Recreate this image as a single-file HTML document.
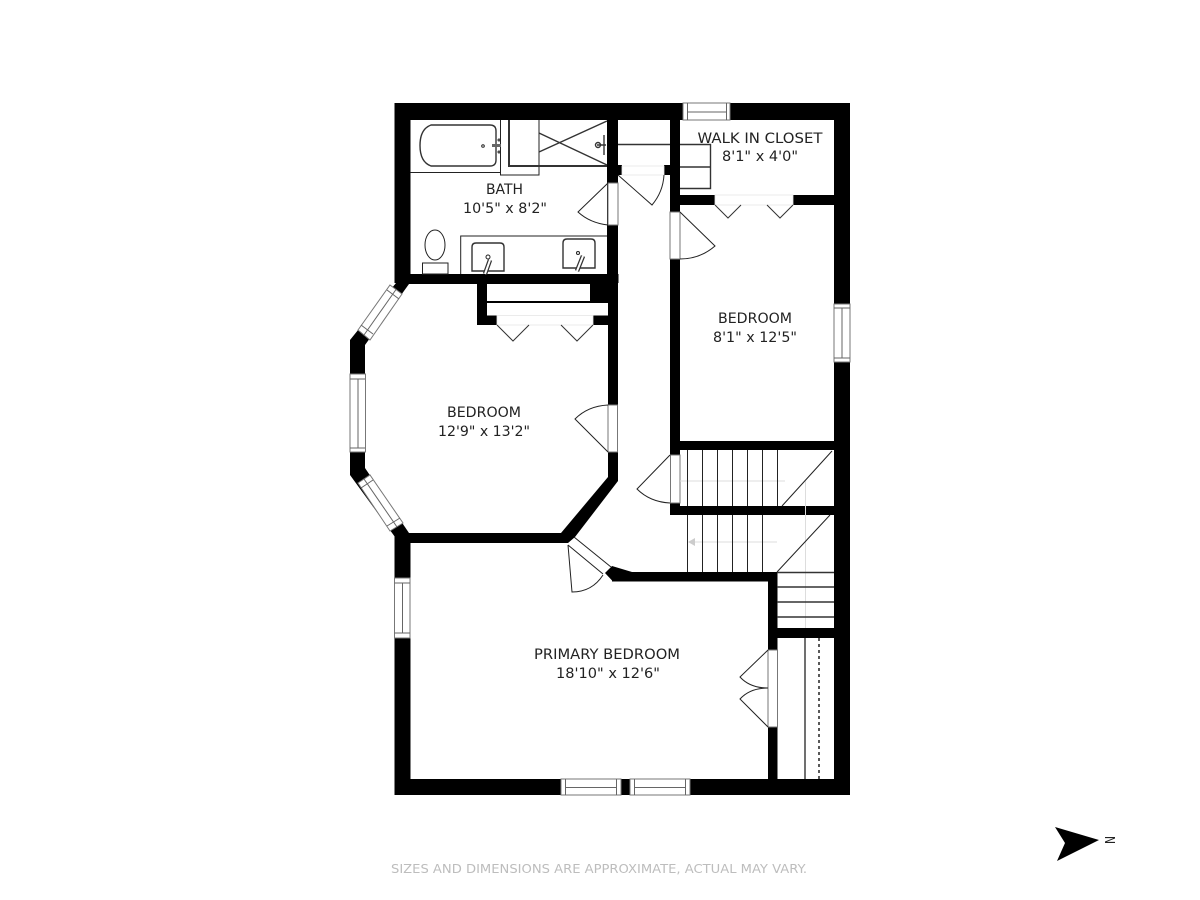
<!DOCTYPE html>
<html>
<head>
<meta charset="utf-8">
<title>Floor plan</title>
<style>
html,body{margin:0;padding:0;background:#fff;width:1200px;height:900px;overflow:hidden}
svg{display:block}
text{font-family:"DejaVu Sans","Liberation Sans",sans-serif;fill:#222;font-size:14px;text-anchor:start}
.t{fill:none;stroke:#222;stroke-width:1}
.m{fill:none;stroke:#333;stroke-width:1.4}
.g{fill:none;stroke:#666;stroke-width:1}
.d{fill:none;stroke:#333;stroke-width:1}
.l{fill:none;stroke:#ddd;stroke-width:1}
.w{fill:#fff;stroke:#777;stroke-width:1}
.o{fill:#fff;stroke:#e6e6e6;stroke-width:.8}
</style>
</head>
<body>
<svg width="1200" height="900" viewBox="0 0 1200 900" xmlns="http://www.w3.org/2000/svg">
<rect width="1200" height="900" fill="#fff"/>

<!-- outer walls -->
<g fill="#000">
<rect x="394.5" y="103" width="455.5" height="17"/>
<rect x="394.5" y="103" width="16" height="180"/>
<rect x="834" y="103" width="16" height="692"/>
<rect x="394.5" y="779" width="455.5" height="16"/>
<rect x="394.5" y="533" width="16" height="262"/>
<!-- bath / hall walls -->
<rect x="394.5" y="274" width="224" height="9"/>
<rect x="607" y="120" width="11" height="170"/>
<rect x="607" y="165" width="15" height="10"/>
<rect x="664" y="165" width="10" height="10"/>
<rect x="670" y="120" width="10" height="335"/>
<rect x="680" y="195" width="35" height="10"/>
<rect x="793" y="195" width="41" height="10"/>
<rect x="670" y="441" width="164" height="9"/>
<rect x="670" y="503" width="10" height="12"/>
<rect x="670" y="506" width="164" height="9"/>
<!-- primary walls -->
<rect x="612" y="572" width="165" height="9.5"/>
<rect x="768" y="572" width="9.5" height="223"/>
<rect x="777" y="628" width="57" height="10"/>
</g>

<!-- octagon bedroom -->
<polygon fill="#000" points="396,283 350,340 350,475 395,537 410,543 568,543 575,537 618,481 618,275 396,275"/>
<polygon fill="#fff" points="409,284 365,345 365,468 409,533 561,533 608,477 608,284"/>
<polygon fill="#000" points="605,573 612,566 632,572 632,581.5 613,581.5"/>
<!-- closet in octagon bedroom -->
<g fill="#000">
<rect x="477" y="283" width="10" height="42"/>
<rect x="477" y="315.5" width="20" height="9.5"/>
<rect x="590" y="283" width="18" height="20"/>
<rect x="593" y="315.5" width="15" height="9.5"/>
<rect x="487" y="301" width="121" height="2"/>
</g>
<rect x="487" y="303" width="121" height="12.5" fill="#fff"/>
<rect x="497" y="315.5" width="96" height="9.5" class="o"/>
<path class="d" d="M497 325 L513 341 L529 325 M561 325 L577 341 L593 325"/>

<!-- bath door + bedroom doors (openings) -->
<rect x="608" y="183" width="10" height="42" class="w"/>
<path class="t" d="M608 183 L578 212 Q590 223 608 225" stroke-width=".8"/>
<rect x="608" y="405" width="9.5" height="47" class="w"/>
<path class="t" d="M608 452 L575 419 Q588 406 608 405"/>
<rect x="622" y="166" width="42" height="9" class="o"/>
<path class="t" d="M618 175 L652 205 Q663 192 664 175"/>
<rect x="670" y="212" width="10" height="47" class="w"/>
<path class="t" d="M680 212 L715 246 Q700 259 680 259"/>
<rect x="670.5" y="455" width="9.5" height="48" class="w"/>
<path class="t" d="M670 455 L637 489 Q650 502 670 503"/>
<rect x="715" y="195" width="78" height="10" class="o"/>
<path class="d" d="M715 205 L728 218 L741 205 M767 205 L780 218 L793 205"/>

<!-- closet stair steps -->
<rect x="618" y="120" width="52" height="45" fill="#fff"/>
<path class="m" d="M618 144.500 H670"/>
<path class="m" d="M680 144.500 H710.500 V188.500 H680 M680 167 H710.500"/>

<!-- stairs -->
<path class="l" d="M680 481 H785 M690 542 H777 M805.500 481 V628"/>
<polygon points="688,542 695,538 695,546" fill="#ccc"/>
<path class="t" stroke="#333" d="M687.500 450 V506 M702.500 450 V506 M717.500 450 V506 M732.500 450 V506 M747.500 450 V506 M762.500 450 V506 M777.500 450 V506 M687.500 515 V572 M702.500 515 V572 M717.500 515 V572 M732.500 515 V572 M747.500 515 V572 M762.500 515 V572"/>
<path class="t" d="M832 451 L782 506 M830 515 L777 572"/>
<path class="m" d="M777 572.500 H834 M777 587 H834 M777 602 H834 M777 617 H834"/>

<!-- closet under stairs -->
<path class="m" d="M805 638 V779"/>
<path fill="none" stroke="#222" stroke-width="1.500" stroke-dasharray="3 3" d="M819 638 V779"/>

<!-- primary closet doors -->
<rect x="768" y="650" width="9.500" height="77" class="w"/>
<path class="t" d="M768 650 L740 677 Q750 688 768 688 Q750 688 740 699 L768 727"/>

<!-- primary door -->
<polygon fill="#fff" points="575,538 611,567 603,574 568,545"/>
<path class="t" d="M574 537 L611 567 M568 545 L603 574 M568 545 L572 592 Q592 592 603 575"/>

<!-- windows -->
<rect x="683" y="103" width="47" height="17" class="w"/>
<path class="g" d="M687.500 103 V120 M726.500 103 V120 M687 112 H727"/>
<rect x="834" y="304" width="16" height="58" class="w"/>
<path class="g" d="M834 308 H850 M834 358 H850 M842 308 V358"/>
<rect x="394.500" y="578" width="15.500" height="60" class="w"/>
<path class="g" d="M394.500 583 H410 M394.500 633 H410 M402.500 583 V633"/>
<rect x="561" y="779" width="60" height="16" class="w"/>
<path class="g" d="M565.500 779 V795 M616.500 779 V795 M566 787.500 H617"/>
<rect x="630" y="779" width="60" height="16" class="w"/>
<path class="g" d="M634.500 779 V795 M685.500 779 V795 M635 787.500 H685"/>
<rect x="350" y="374" width="15.500" height="78" class="w"/>
<path class="g" d="M350 379 H365 M350 448 H365 M358 379 V448"/>
<polygon class="w" points="390,285 402,294 370,340 358,330"/>
<path class="g" d="M396 289.500 L364 335 M387 290 L399 299 M361 325 L373 334"/>
<polygon class="w" points="358,483 370,475 403,523 390,531"/>
<path class="g" d="M364 479 L397 527 M361 488 L373 480 M387 526 L400 518"/>

<!-- bath fixtures -->
<path class="t" d="M410 172.500 H501 M500.500 120 V175 H539 V120"/>
<path class="m" d="M431 125 H490 Q496 125 496 131 V160 Q496 166 490 166 H431 Q420 162 420 145.500 Q420 129 431 125 Z"/>
<rect x="492" y="144" width="9" height="3" fill="#666"/>
<circle cx="483" cy="146" r="1.300" class="t"/>
<circle cx="499" cy="140" r="1" class="t"/>
<circle cx="499" cy="152" r="1" class="t"/>
<path fill="none" stroke="#333" stroke-width="2" d="M509 120 V166 H607"/>
<path class="m" d="M539 133 L607 165 M539 152 L607 121"/>
<path class="m" d="M604 135 V155 M597 145 H606"/>
<circle cx="598" cy="145" r="2.500" fill="none" stroke="#333" stroke-width="1.400"/>
<rect x="422.500" y="263" width="25.500" height="11" class="t"/>
<ellipse cx="435" cy="245" rx="10" ry="15" class="t"/>
<path class="t" d="M460.700 274 V236 H607"/>
<path class="m" d="M472 271 V247 Q472 243 476 243 H500 Q504 243 504 247 V271 Z"/>
<path class="m" d="M563 268 V243 Q563 239 567 239 H591 Q595 239 595 243 V268 Z"/>
<path fill="none" stroke="#333" stroke-width="4.500" d="M490 260 L485 274"/>
<path fill="none" stroke="#fff" stroke-width="2" d="M490 260 L485 274"/>
<circle cx="488" cy="257" r="2" class="t"/>
<path fill="none" stroke="#333" stroke-width="4.500" d="M583 256 L577 271"/>
<path fill="none" stroke="#fff" stroke-width="2" d="M583 256 L577 271"/>
<circle cx="578" cy="253" r="1.500" class="t"/>

<!-- labels -->
<text x="486" y="194" textLength="37" lengthAdjust="spacingAndGlyphs">BATH</text>
<text x="463" y="213" textLength="84" lengthAdjust="spacingAndGlyphs">10'5" x 8'2"</text>
<text x="697.500" y="143" textLength="125" lengthAdjust="spacingAndGlyphs">WALK IN CLOSET</text>
<text x="722" y="161" textLength="76" lengthAdjust="spacingAndGlyphs">8'1" x 4'0"</text>
<text x="718" y="323" textLength="74" lengthAdjust="spacingAndGlyphs">BEDROOM</text>
<text x="713" y="342" textLength="84" lengthAdjust="spacingAndGlyphs">8'1" x 12'5"</text>
<text x="447" y="417" textLength="74" lengthAdjust="spacingAndGlyphs">BEDROOM</text>
<text x="438" y="436" textLength="92" lengthAdjust="spacingAndGlyphs">12'9" x 13'2"</text>
<text x="534" y="659" textLength="146" lengthAdjust="spacingAndGlyphs">PRIMARY BEDROOM</text>
<text x="556" y="678" textLength="104" lengthAdjust="spacingAndGlyphs">18'10" x 12'6"</text>
<text x="391" y="873" textLength="416" lengthAdjust="spacingAndGlyphs" style="fill:#bdbdbd;font-size:12.500px">SIZES AND DIMENSIONS ARE APPROXIMATE, ACTUAL MAY VARY.</text>

<!-- north arrow -->
<polygon points="1055,827 1099,840 1057,861 1065,843" fill="#000"/>
<text transform="translate(1105,836) rotate(90)" x="0" y="0" textLength="8" lengthAdjust="spacingAndGlyphs" style="font-size:13px;fill:#222">N</text>
</svg>
</body>
</html>
